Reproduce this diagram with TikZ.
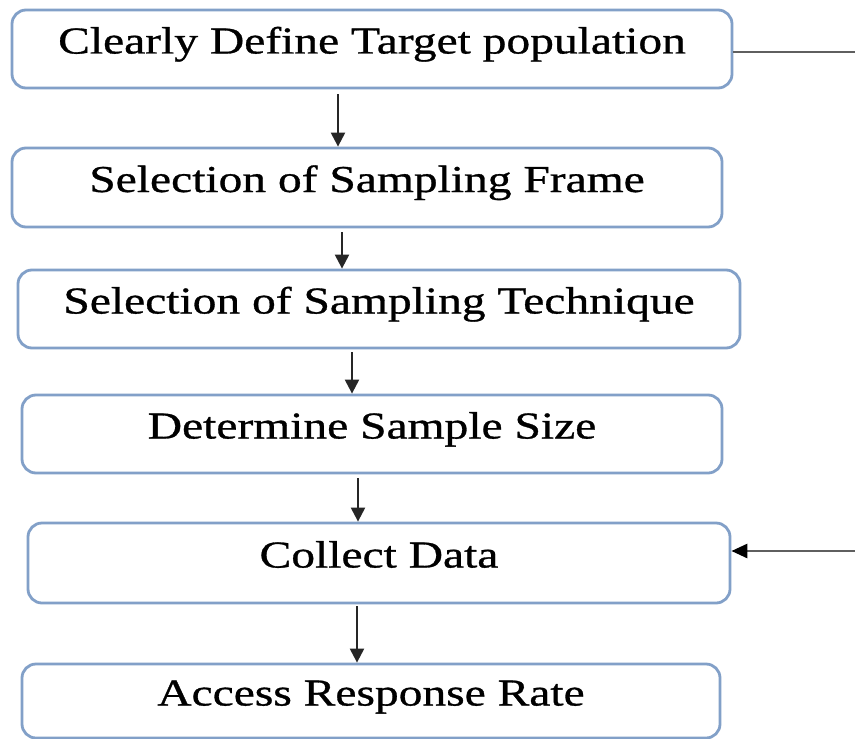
\documentclass[tikz,border=0pt]{standalone}
\usepackage{fontspec}
\setmainfont[FakeStretch=1.25, FakeBold=0.8]{Liberation Serif}
\usetikzlibrary{arrows.meta}

\definecolor{boxblue}{RGB}{130,160,200}
\definecolor{feedgray}{RGB}{95,95,95}

\begin{document}
\begin{tikzpicture}[
  x=0.5pt, y=-0.5pt,
  box/.style={draw=boxblue, line width=1.4pt, rounded corners=7pt, align=center, inner sep=0pt,
    font=\fontsize{19}{23}\selectfont, text height=13.5pt, text depth=9pt},
  flow/.style={->, line width=1.1pt, draw=black!85},
  feed/.style={draw=feedgray, line width=1.4pt},
  >={Triangle[length=7pt,width=7pt]}
]
\clip (0,0) rectangle (855,738);
\fill[white] (0,0) rectangle (855,738);
\node[box, minimum width=360pt, minimum height=39pt] (pop) at (372,49) {Clearly Define Target population};
\node[box, minimum width=355pt, minimum height=39.5pt] (frame) at (367,187.5) {Selection of Sampling Frame};
\node[box, minimum width=361pt, minimum height=39pt] (tech) at (379,309) {Selection of Sampling Technique};
\node[box, minimum width=350pt, minimum height=39pt] (size) at (372,434) {Determine Sample Size};
\node[box, minimum width=351pt, minimum height=40pt] (collect) at (379,563) {Collect Data};
\node[box, minimum width=349pt, minimum height=37pt] (access) at (371,701) {Access Response Rate};
\coordinate (outtop) at (855,52);
\coordinate (outmid) at (855,551);
% main flow
\draw[flow] ([shift={(-34,5)}]pop.south) -- ([shift={(-29,0)}]frame.north);
\draw[flow] ([shift={(-25,4)}]frame.south) -- ([shift={(-37,0)}]tech.north);
\draw[flow] ([shift={(-27,3)}]tech.south) -- ([shift={(-20,0)}]size.north);
\draw[flow] ([shift={(-14,4)}]size.south) -- ([shift={(-21,0)}]collect.north);
\draw[flow] ([shift={(-22,2)}]collect.south) -- ([shift={(-14,0)}]access.north);
% side lines
\draw[feed] (outtop -| pop.east) -- (outtop);
\draw[feed, -{Triangle[length=8pt,width=7pt,black]}] (outmid) -- (outmid -| collect.east);
\end{tikzpicture}
\end{document}
